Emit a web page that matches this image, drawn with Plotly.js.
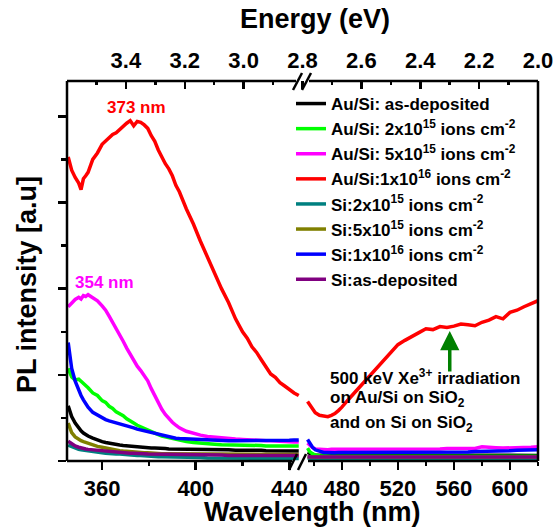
<!DOCTYPE html>
<html>
<head>
<meta charset="utf-8">
<script src="https://cdn.plot.ly/plotly-3.0.1.min.js"></script>
<style>html,body{margin:0;padding:0;background:#fff;}#chart{width:556px;height:529px;}</style>
</head>
<body>
<div id="chart"></div>
<script>
// Wavelength grids (nm) for the two segments of the broken axis
var wlLeft = [345.5, 347, 348.5, 350, 351, 352, 353, 354, 356, 358, 360, 361.5, 363, 364.5, 366, 367.5, 369, 370.5, 372, 373.5, 375, 376.5, 378, 379.5, 381, 382.5, 384, 385.5, 387, 388.5, 390, 391.5, 393, 396, 399, 402, 405, 408, 411, 414, 417, 420, 422, 424, 426, 428, 430, 432, 434, 436, 438, 440, 442, 444];
var wlRight = [455.5, 457, 459, 461, 464, 467, 470, 472.5, 475, 477.5, 480, 485, 490, 495, 500, 505, 510, 515, 520, 525, 530, 535, 540, 545, 550, 555, 560, 565, 570, 575, 580, 585, 590, 595, 600, 605, 610, 615, 620];

var seriesNames = [
  'Au/Si: as-deposited',
  'Au/Si: 2x10<sup>15</sup> ions cm<sup>-2</sup>',
  'Au/Si: 5x10<sup>15</sup> ions cm<sup>-2</sup>',
  'Au/Si:1x10<sup>16</sup> ions cm<sup>-2</sup>',
  'Si:2x10<sup>15</sup> ions cm<sup>-2</sup>',
  'Si:5x10<sup>15</sup> ions cm<sup>-2</sup>',
  'Si:1x10<sup>16</sup> ions cm<sup>-2</sup>',
  'Si:as-deposited'
];
var seriesColors = ['#000000', '#00ff00', '#ff00ff', '#ff0000', '#008080', '#808000', '#0000ff', '#800080'];

// PL intensity (a.u.) - left segment (one value per wlLeft entry)
var auSiAsDepLeft = [1.28, 1.03, 0.88, 0.76, 0.70, 0.65, 0.61, 0.58, 0.53, 0.48, 0.45, 0.43, 0.41, 0.40, 0.38, 0.37, 0.36, 0.35, 0.34, 0.33, 0.32, 0.32, 0.31, 0.31, 0.30, 0.30, 0.29, 0.29, 0.29, 0.28, 0.28, 0.28, 0.28, 0.27, 0.28, 0.27, 0.26, 0.27, 0.26, 0.26, 0.25, 0.26, 0.25, 0.25, 0.26, 0.25, 0.24, 0.24, 0.25, 0.25, 0.24, 0.24, 0.23, 0.23];
var auSi2e15Left = [2.15, 1.95, 1.88, 1.90, 1.85, 1.80, 1.76, 1.70, 1.58, 1.52, 1.40, 1.36, 1.27, 1.22, 1.14, 1.10, 1.05, 0.98, 0.92, 0.88, 0.83, 0.79, 0.75, 0.71, 0.67, 0.64, 0.61, 0.58, 0.56, 0.53, 0.51, 0.50, 0.48, 0.45, 0.43, 0.41, 0.40, 0.39, 0.38, 0.38, 0.37, 0.37, 0.37, 0.36, 0.36, 0.36, 0.35, 0.36, 0.35, 0.35, 0.36, 0.35, 0.35, 0.35];
var auSi5e15Left = [3.58, 3.68, 3.75, 3.80, 3.76, 3.84, 3.82, 3.86, 3.78, 3.72, 3.60, 3.50, 3.36, 3.22, 3.05, 2.92, 2.78, 2.62, 2.48, 2.36, 2.20, 2.10, 1.97, 1.86, 1.68, 1.52, 1.33, 1.20, 1.08, 0.98, 0.90, 0.83, 0.77, 0.69, 0.64, 0.60, 0.57, 0.55, 0.54, 0.52, 0.51, 0.50, 0.49, 0.49, 0.48, 0.48, 0.47, 0.47, 0.46, 0.46, 0.45, 0.45, 0.44, 0.44];
var auSi1e16Left = [7.06, 6.75, 6.58, 6.45, 6.30, 6.55, 6.62, 6.70, 7.00, 7.15, 7.35, 7.42, 7.50, 7.58, 7.62, 7.70, 7.78, 7.84, 7.90, 7.78, 7.88, 7.86, 7.80, 7.72, 7.55, 7.42, 7.22, 7.05, 6.90, 6.78, 6.62, 6.40, 6.25, 5.85, 5.50, 5.10, 4.72, 4.35, 4.00, 3.68, 3.30, 3.00, 2.85, 2.65, 2.52, 2.35, 2.20, 2.02, 1.94, 1.82, 1.74, 1.65, 1.58, 1.52];
var si2e15Left = [0.37, 0.33, 0.30, 0.27, 0.26, 0.25, 0.24, 0.23, 0.21, 0.20, 0.19, 0.18, 0.17, 0.17, 0.16, 0.16, 0.15, 0.15, 0.14, 0.14, 0.13, 0.13, 0.12, 0.12, 0.11, 0.11, 0.10, 0.10, 0.10, 0.10, 0.09, 0.09, 0.09, 0.08, 0.08, 0.08, 0.07, 0.07, 0.07, 0.07, 0.07, 0.06, 0.06, 0.06, 0.06, 0.06, 0.06, 0.06, 0.06, 0.06, 0.06, 0.06, 0.06, 0.06];
var si5e15Left = [0.88, 0.66, 0.56, 0.50, 0.47, 0.45, 0.43, 0.41, 0.37, 0.34, 0.32, 0.30, 0.29, 0.27, 0.26, 0.24, 0.23, 0.22, 0.22, 0.21, 0.20, 0.20, 0.19, 0.19, 0.18, 0.18, 0.18, 0.17, 0.17, 0.17, 0.17, 0.17, 0.17, 0.16, 0.16, 0.16, 0.16, 0.16, 0.16, 0.15, 0.16, 0.15, 0.15, 0.15, 0.15, 0.15, 0.15, 0.15, 0.15, 0.15, 0.15, 0.15, 0.15, 0.15];
var si1e16Left = [2.75, 2.15, 1.85, 1.62, 1.52, 1.42, 1.33, 1.25, 1.13, 1.06, 1.00, 0.96, 0.93, 0.91, 0.89, 0.87, 0.85, 0.82, 0.79, 0.77, 0.74, 0.72, 0.70, 0.68, 0.66, 0.63, 0.61, 0.59, 0.57, 0.55, 0.54, 0.53, 0.52, 0.51, 0.50, 0.49, 0.49, 0.48, 0.48, 0.47, 0.47, 0.47, 0.46, 0.46, 0.47, 0.46, 0.47, 0.47, 0.48, 0.47, 0.48, 0.48, 0.49, 0.49];
var siAsDepLeft = [0.46, 0.40, 0.35, 0.32, 0.30, 0.29, 0.28, 0.27, 0.26, 0.24, 0.23, 0.22, 0.21, 0.21, 0.20, 0.20, 0.19, 0.19, 0.18, 0.18, 0.17, 0.17, 0.17, 0.16, 0.16, 0.16, 0.16, 0.15, 0.15, 0.15, 0.15, 0.15, 0.15, 0.14, 0.14, 0.14, 0.14, 0.14, 0.14, 0.13, 0.13, 0.13, 0.13, 0.13, 0.13, 0.13, 0.13, 0.13, 0.13, 0.13, 0.13, 0.13, 0.13, 0.13];

// PL intensity (a.u.) - right segment (one value per wlRight entry)
var auSiAsDepRight = [0.20, 0.17, 0.15, 0.14, 0.14, 0.13, 0.13, 0.13, 0.13, 0.13, 0.13, 0.13, 0.13, 0.13, 0.13, 0.13, 0.13, 0.13, 0.13, 0.13, 0.13, 0.13, 0.13, 0.13, 0.13, 0.13, 0.13, 0.13, 0.13, 0.13, 0.13, 0.13, 0.13, 0.13, 0.13, 0.13, 0.13, 0.13, 0.13];
var auSi2e15Right = [0.30, 0.22, 0.17, 0.14, 0.12, 0.11, 0.11, 0.11, 0.11, 0.11, 0.11, 0.11, 0.11, 0.11, 0.11, 0.11, 0.11, 0.11, 0.11, 0.11, 0.11, 0.11, 0.11, 0.11, 0.11, 0.11, 0.11, 0.11, 0.11, 0.11, 0.11, 0.11, 0.11, 0.11, 0.11, 0.11, 0.11, 0.11, 0.11];
var auSi5e15Right = [0.42, 0.36, 0.31, 0.28, 0.27, 0.26, 0.26, 0.27, 0.27, 0.26, 0.27, 0.26, 0.26, 0.27, 0.27, 0.28, 0.28, 0.27, 0.27, 0.28, 0.27, 0.28, 0.28, 0.27, 0.28, 0.29, 0.29, 0.28, 0.30, 0.29, 0.33, 0.31, 0.31, 0.30, 0.30, 0.31, 0.31, 0.32, 0.33];
var auSi1e16Right = [1.38, 1.30, 1.20, 1.12, 1.06, 1.04, 1.03, 1.06, 1.10, 1.17, 1.25, 1.44, 1.62, 1.82, 1.97, 2.18, 2.35, 2.52, 2.70, 2.80, 2.90, 2.98, 3.07, 3.05, 3.12, 3.10, 3.13, 3.18, 3.16, 3.14, 3.22, 3.27, 3.35, 3.30, 3.45, 3.50, 3.58, 3.64, 3.72];
var si2e15Right = [0.07, 0.06, 0.06, 0.05, 0.05, 0.05, 0.05, 0.05, 0.05, 0.05, 0.05, 0.05, 0.05, 0.05, 0.05, 0.05, 0.05, 0.05, 0.05, 0.05, 0.05, 0.05, 0.05, 0.05, 0.05, 0.05, 0.05, 0.05, 0.05, 0.05, 0.05, 0.05, 0.05, 0.05, 0.05, 0.05, 0.05, 0.05, 0.05];
var si5e15Right = [0.10, 0.09, 0.09, 0.09, 0.09, 0.09, 0.09, 0.09, 0.09, 0.09, 0.09, 0.09, 0.09, 0.09, 0.09, 0.09, 0.09, 0.09, 0.09, 0.09, 0.09, 0.09, 0.09, 0.09, 0.09, 0.09, 0.09, 0.09, 0.09, 0.09, 0.09, 0.09, 0.09, 0.09, 0.09, 0.09, 0.09, 0.09, 0.09];
var si1e16Right = [0.50, 0.42, 0.32, 0.26, 0.22, 0.20, 0.20, 0.19, 0.19, 0.20, 0.20, 0.19, 0.20, 0.19, 0.19, 0.20, 0.20, 0.19, 0.20, 0.19, 0.19, 0.20, 0.20, 0.20, 0.21, 0.20, 0.20, 0.21, 0.21, 0.22, 0.22, 0.23, 0.23, 0.24, 0.24, 0.25, 0.26, 0.26, 0.26];
var siAsDepRight = [0.10, 0.09, 0.09, 0.09, 0.09, 0.09, 0.09, 0.09, 0.09, 0.09, 0.09, 0.09, 0.09, 0.09, 0.09, 0.09, 0.09, 0.09, 0.09, 0.09, 0.09, 0.09, 0.09, 0.09, 0.09, 0.09, 0.09, 0.09, 0.09, 0.09, 0.09, 0.09, 0.09, 0.09, 0.09, 0.09, 0.09, 0.09, 0.09];

var leftSeries = [auSiAsDepLeft, auSi2e15Left, auSi5e15Left, auSi1e16Left, si2e15Left, si5e15Left, si1e16Left, siAsDepLeft];
var rightSeries = [auSiAsDepRight, auSi2e15Right, auSi5e15Right, auSi1e16Right, si2e15Right, si5e15Right, si1e16Right, siAsDepRight];

// Energy axis tick labels (eV)
var energyTicks = [3.4, 3.2, 3.0, 2.8, 2.6, 2.4, 2.2, 2.0];
var energyTickText = ['3.4', '3.2', '3.0', '2.8', '2.6', '2.4', '2.2', '2.0'];

var FONT = 'Liberation Sans, Arial, sans-serif';
var traces = [];
for (var i = 0; i < seriesNames.length; i++) {
  traces.push({
    x: wlLeft, y: leftSeries[i], xaxis: 'x', yaxis: 'y', type: 'scatter', mode: 'lines',
    name: seriesNames[i], legendgroup: 'g' + i, showlegend: true,
    line: {color: seriesColors[i], width: 3.5}, hoverinfo: 'skip'
  });
}
for (var j = 0; j < seriesNames.length; j++) {
  traces.push({
    x: wlRight, y: rightSeries[j], xaxis: 'x2', yaxis: 'y', type: 'scatter', mode: 'lines',
    name: seriesNames[j], legendgroup: 'g' + j, showlegend: false,
    line: {color: seriesColors[j], width: 3.5}, hoverinfo: 'skip'
  });
}
// carrier for the energy axis (no visible marks)
traces.push({x: [3.6, 2.0], y: [null, null], xaxis: 'x3', yaxis: 'y', type: 'scatter', mode: 'lines', showlegend: false, hoverinfo: 'skip'});

// pixel -> paper helpers (plot area 67..538 x, 81..461 y)
function PX(px) { return (px - 67) / 471; }
function PY(py) { return (461 - py) / 380; }

var tickFont = {family: FONT, size: 22, color: '#000', weight: 'bold'};
var lineStyle = {color: '#000', width: 2.5};

var shapes = [
  {type: 'line', xref: 'paper', yref: 'paper', x0: 0, x1: 0, y0: 0, y1: 1, line: lineStyle},
  {type: 'line', xref: 'paper', yref: 'paper', x0: 1, x1: 1, y0: 0, y1: 1, line: lineStyle},
  {type: 'line', xref: 'paper', yref: 'paper', x0: 0, x1: PX(296), y0: 1, y1: 1, line: lineStyle},
  {type: 'line', xref: 'paper', yref: 'paper', x0: PX(309), x1: 1, y0: 1, y1: 1, line: lineStyle},
  {type: 'line', xref: 'paper', yref: 'paper', x0: 0, x1: PX(292), y0: 0, y1: 0, line: lineStyle},
  {type: 'line', xref: 'paper', yref: 'paper', x0: PX(308), x1: 1, y0: 0, y1: 0, line: lineStyle},
  // break marks
  {type: 'line', xref: 'paper', yref: 'paper', x0: PX(289), x1: PX(297), y0: PY(470), y1: PY(454), line: lineStyle},
  {type: 'line', xref: 'paper', yref: 'paper', x0: PX(298), x1: PX(306), y0: PY(470), y1: PY(454), line: lineStyle},
  {type: 'line', xref: 'paper', yref: 'paper', x0: PX(293), x1: PX(302), y0: PY(90), y1: PY(73), line: lineStyle},
  {type: 'line', xref: 'paper', yref: 'paper', x0: PX(302), x1: PX(311), y0: PY(90), y1: PY(73), line: lineStyle}
];

var annFont = function (size, color) { return {family: FONT, size: size, color: color, weight: 'bold'}; };
var annotations = [
  {xref: 'paper', yref: 'paper', x: PX(136), y: PY(107), xanchor: 'center', yanchor: 'middle', text: '373 nm', showarrow: false, font: annFont(17, '#ff0000')},
  {xref: 'paper', yref: 'paper', x: PX(104), y: PY(282), xanchor: 'center', yanchor: 'middle', text: '354 nm', showarrow: false, font: annFont(17, '#ff00ff')},
  {xref: 'paper', yref: 'paper', x: PX(315), y: PY(19), xanchor: 'center', yanchor: 'middle', text: 'Energy (eV)', showarrow: false, font: annFont(27, '#000')},
  {xref: 'paper', yref: 'paper', x: PX(312), y: PY(512), xanchor: 'center', yanchor: 'middle', text: 'Wavelength (nm)', showarrow: false, font: annFont(27, '#000')},
  {xref: 'paper', yref: 'paper', x: PX(27), y: PY(285), xanchor: 'center', yanchor: 'middle', text: 'PL intensity [a.u]', textangle: -90, showarrow: false, font: annFont(27, '#000')},
  {xref: 'paper', yref: 'paper', x: PX(328), y: PY(377), xanchor: 'left', yanchor: 'middle', text: '500 keV Xe<sup>3+</sup> irradiation', showarrow: false, font: annFont(17, '#000')},
  {xref: 'paper', yref: 'paper', x: PX(328), y: PY(399), xanchor: 'left', yanchor: 'middle', text: 'on Au/Si on SiO<sub>2</sub>', showarrow: false, font: annFont(17, '#000')},
  {xref: 'paper', yref: 'paper', x: PX(328), y: PY(424), xanchor: 'left', yanchor: 'middle', text: 'and on Si on SiO<sub>2</sub>', showarrow: false, font: annFont(17, '#000')},
  {xref: 'x2', yref: 'y', x: 557, y: 3.02, ax: 0, ay: 42, text: '', showarrow: true, arrowcolor: '#008000', arrowwidth: 3.5, arrowhead: 2, arrowsize: 1.1, standoff: 0}
];

var layout = {
  width: 556, height: 529,
  margin: {l: 67, r: 18, t: 81, b: 68, pad: 0},
  paper_bgcolor: '#fff', plot_bgcolor: 'rgba(0,0,0,0)',
  font: {family: FONT, color: '#000'},
  showlegend: true,
  xaxis: {
    domain: [0, 0.495], range: [345, 444.6], anchor: 'y',
    tickmode: 'linear', tick0: 360, dtick: 40,
    ticks: 'outside', ticklen: 8, tickwidth: 2.5, tickcolor: '#000',
    minor: {tick0: 360, dtick: 20, ticks: 'outside', ticklen: 4, tickwidth: 2.5, tickcolor: '#000'},
    showline: false, zeroline: false, showgrid: false, tickfont: tickFont
  },
  xaxis2: {
    domain: [0.503, 1], range: [452.9, 620], anchor: 'y',
    tickmode: 'linear', tick0: 480, dtick: 40,
    ticks: 'outside', ticklen: 8, tickwidth: 2.5, tickcolor: '#000',
    minor: {tick0: 460, dtick: 20, ticks: 'outside', ticklen: 4, tickwidth: 2.5, tickcolor: '#000'},
    showline: false, zeroline: false, showgrid: false, tickfont: tickFont
  },
  xaxis3: {
    domain: [0, 1], range: [3.6, 2.0], anchor: 'y', side: 'top',
    tickmode: 'array', tickvals: energyTicks, ticktext: energyTickText,
    ticks: 'inside', ticklen: 8, tickwidth: 2.5, tickcolor: '#000',
    minor: {tick0: 2.0, dtick: 0.1, ticks: 'inside', ticklen: 4, tickwidth: 2.5, tickcolor: '#000'},
    ticklabelstandoff: 8,
    showline: false, zeroline: false, showgrid: false, tickfont: tickFont
  },
  yaxis: {
    domain: [0, 1], range: [0, 8.82], anchor: 'x',
    tickmode: 'linear', tick0: 0, dtick: 2,
    ticks: 'outside', ticklen: 8, tickwidth: 2.5, tickcolor: '#000',
    minor: {tick0: 0, dtick: 1, ticks: 'outside', ticklen: 5, tickwidth: 2.5, tickcolor: '#000'},
    showticklabels: false, showline: false, zeroline: false, showgrid: false
  },
  legend: {
    x: PX(291), xanchor: 'left', y: PY(86), yanchor: 'top',
    bgcolor: 'rgba(0,0,0,0)', borderwidth: 0,
    font: {family: FONT, size: 17, color: '#000', weight: 'bold'},
    tracegroupgap: 0, traceorder: 'normal', itemwidth: 30
  },
  shapes: shapes,
  annotations: annotations
};

Plotly.newPlot('chart', traces, layout, {staticPlot: true, displayModeBar: false});
</script>
</body>
</html>
